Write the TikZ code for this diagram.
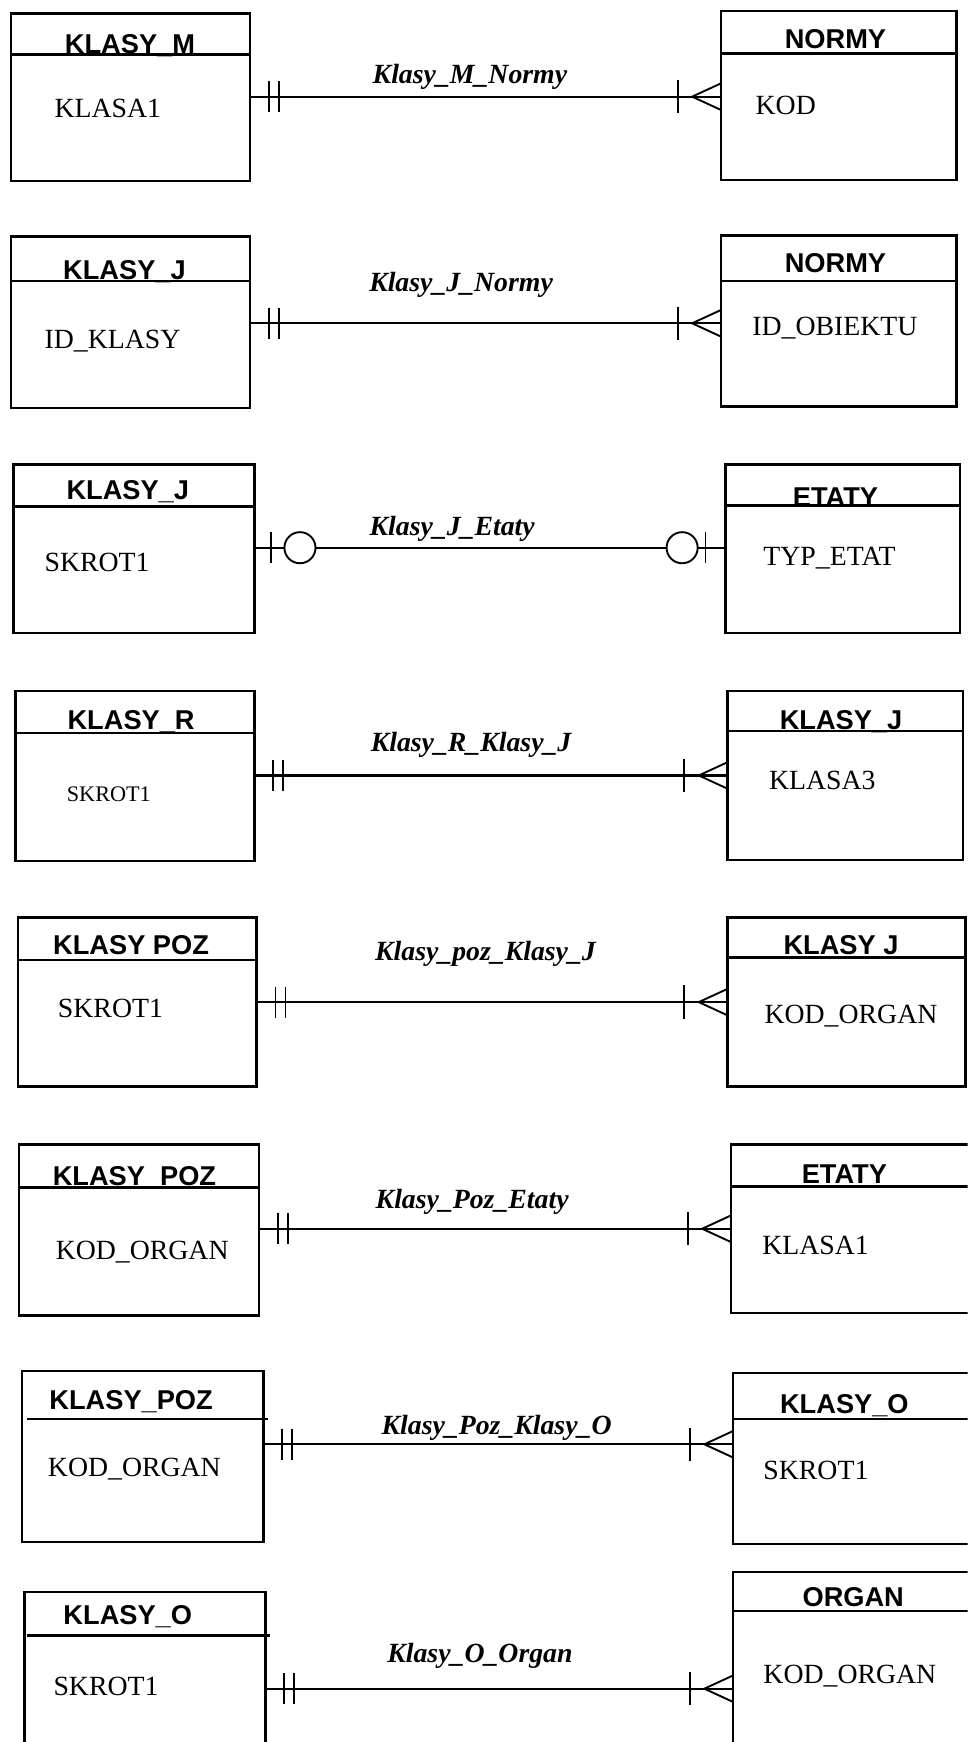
\documentclass[tikz,border=0pt]{standalone}
\usepackage{fontspec}
\setmainfont{Liberation Serif}
\newfontfamily\hdrfont{Liberation Sans}
\tikzset{
  erbox/.style={draw, line width=2.2pt, inner sep=0pt, outer sep=0pt},
  hdrline/.style={line width=2.2pt},
  conn/.style={line width=2pt},
  tick/.style={line width=1.7pt},
  ttl/.style={anchor=base, inner sep=0pt, font=\hdrfont\bfseries\fontsize{24.5}{24.5}\selectfont},
  attr/.style={anchor=base west, inner sep=0pt, font=\fontsize{25}{25}\selectfont},
  rel/.style={anchor=base, inner sep=0pt, font=\bfseries\itshape\fontsize{25}{25}\selectfont},
}
\newcommand\ent[5]{%
  \node[erbox, minimum width={#4-#2}, minimum height={#5-#3}] (#1) at ({(#2+#4)/2},{(#3+#5)/2}) {};}
\newcommand\dbar[1]{%
  \draw[tick] ([shift={(17,-14)}]#1) -- ++(0,28);
  \draw[tick] ([shift={(26,-14)}]#1) -- ++(0,28);}
\newcommand\crow[1]{%
  \draw[tick] ([shift={(-39,-15)}]#1) -- ++(0,30);
  \draw[tick] ([shift={(0,-12)}]#1) -- ([shift={(-26,0)}]#1) -- ([shift={(0,12)}]#1);}
\newcommand\zol[1]{%
  \draw[tick] ([shift={(15,-14)}]#1) -- ++(0,28);
  \draw[tick, fill=white] ([shift={(41,0)}]#1) circle (14);}
\newcommand\zor[1]{%
  \draw[tick] ([shift={(-18,-14)}]#1) -- ++(0,28);
  \draw[tick, fill=white] ([shift={(-39,0)}]#1) circle (14);}
\begin{document}
\begin{tikzpicture}[x=1pt,y=-1pt]
\useasboundingbox (0,0) rectangle (871,1568);
\fill[white] (0,0) rectangle (871,1568);
\clip (0,0) rectangle (871,1568);

% ---------- Row 1
\ent{L1}{10}{12}{225}{163}
\ent{R1}{649}{10}{861}{162}
\draw[hdrline] (L1.west |- 0,49) -- (L1.east |- 0,49);
\draw[hdrline] (R1.west |- 0,48) -- (R1.east |- 0,48);
\node[ttl] (t1l) at (117,48) {KLASY\_M};
\node[ttl] (t1r) at (752,44) {NORMY};
\node[attr] (a1l) at (49,106) {KLASA1};
\node[attr] (a1r) at (680,103) {KOD};
\coordinate (c1a) at (L1.east |- 0,87);
\coordinate (c1b) at (R1.west |- 0,87);
\draw[conn] (c1a) -- (c1b);
\dbar{c1a}\crow{c1b}
\node[rel] (r1) at (423,75) {Klasy\_M\_Normy};

% ---------- Row 2
\ent{L2}{10}{213}{225}{367}
\ent{R2}{649}{212}{861}{366}
\draw[hdrline] (L2.west |- 0,253) -- (L2.east |- 0,253);
\draw[hdrline] (R2.west |- 0,253) -- (R2.east |- 0,253);
\node[ttl] (t2l) at (112,252) {KLASY\_J};
\node[ttl] (t2r) at (752,245) {NORMY};
\node[attr] (a2l) at (40,314) {ID\_KLASY};
\node[attr] (a2r) at (677,302) {ID\_OBIEKTU};
\coordinate (c2a) at (L2.east |- 0,291);
\coordinate (c2b) at (R2.west |- 0,291);
\draw[conn] (c2a) -- (c2b);
\dbar{c2a}\crow{c2b}
\node[rel] (r2) at (415,262) {Klasy\_J\_Normy};

% ---------- Row 3
\ent{L3}{12}{418}{229}{570}
\ent{R3}{653}{418}{864}{570}
\draw[hdrline] (L3.west |- 0,456) -- (L3.east |- 0,456);
\draw[hdrline] (R3.west |- 0,455) -- (R3.east |- 0,455);
\node[ttl] (t3l) at (115,450) {KLASY\_J};
\node[ttl] (t3r) at (752,456) {ETATY};
\node[attr] (a3l) at (40,514) {SKROT1};
\node[attr] (a3r) at (687,509) {TYP\_ETAT};
\coordinate (c3a) at (L3.east |- 0,493);
\coordinate (c3b) at (R3.west |- 0,493);
\draw[conn] (c3a) -- (c3b);
\zol{c3a}\zor{c3b}
\node[rel] (r3) at (407,482) {Klasy\_J\_Etaty};

% ---------- Row 4
\ent{L4}{14}{622}{229}{775}
\ent{R4}{655}{622}{867}{774}
\draw[hdrline] (L4.west |- 0,660) -- (L4.east |- 0,660);
\draw[hdrline] (R4.west |- 0,658) -- (R4.east |- 0,658);
\node[ttl] (t4l) at (118,657) {KLASY\_R};
\node[ttl] (t4r) at (757,657) {KLASY\_J};
\node[attr, font=\fontsize{20}{20}\selectfont] (a4l) at (60,721) {SKROT1};
\node[attr] (a4r) at (692,711) {KLASA3};
\coordinate (c4a) at (L4.east |- 0,698);
\coordinate (c4b) at (R4.west |- 0,698);
\draw[conn] (c4a) -- (c4b);
\dbar{c4a}\crow{c4b}
\node[rel] (r4) at (424,676) {Klasy\_R\_Klasy\_J};

% ---------- Row 5
\ent{L5}{16}{826}{231}{978}
\ent{R5}{655}{826}{869}{978}
\draw[hdrline] (L5.west |- 0,864) -- (L5.east |- 0,864);
\draw[hdrline] (R5.west |- 0,862) -- (R5.east |- 0,862);
\node[ttl] (t5l) at (118,859) {KLASY POZ};
\node[ttl] (t5r) at (757,859) {KLASY J};
\node[attr] (a5l) at (52,916) {SKROT1};
\node[attr] (a5r) at (688,921) {KOD\_ORGAN};
\coordinate (c5a) at (L5.east |- 0,902);
\coordinate (c5b) at (R5.west |- 0,902);
\draw[conn] (c5a) -- (c5b);
\dbar{c5a}\crow{c5b}
\node[rel] (r5) at (437,865) {Klasy\_poz\_Klasy\_J};

% ---------- Row 6
\ent{L6}{17}{1030}{233}{1184}
\ent{R6}{658}{1030}{878}{1182}
\draw[hdrline] (L6.west |- 0,1069) -- (L6.east |- 0,1069);
\draw[hdrline] (R6.west |- 0,1068) -- (R6.east |- 0,1068);
\node[ttl] (t6l) at (121,1067) {KLASY\_POZ};
\node[ttl] (t6r) at (760,1065) {ETATY};
\node[attr] (a6l) at (50,1134) {KOD\_ORGAN};
\node[attr] (a6r) at (686,1129) {KLASA1};
\coordinate (c6a) at (L6.east |- 0,1106);
\coordinate (c6b) at (R6.west |- 0,1106);
\draw[conn] (c6a) -- (c6b);
\dbar{c6a}\crow{c6b}
\node[rel] (r6) at (425,1088) {Klasy\_Poz\_Etaty};

% ---------- Row 7
\ent{L7}{20}{1234}{237}{1388}
\ent{R7}{660}{1236}{880}{1390}
\draw[hdrline] (24,1277) -- (241,1277);
\draw[hdrline] (R7.west |- 0,1277) -- (R7.east |- 0,1277);
\node[ttl] (t7l) at (118,1269) {KLASY\_POZ};
\node[ttl] (t7r) at (760,1272) {KLASY\_O};
\node[attr] (a7l) at (43,1329) {KOD\_ORGAN};
\node[attr] (a7r) at (687,1332) {SKROT1};
\coordinate (c7a) at (L7.east |- 0,1300);
\coordinate (c7b) at (R7.west |- 0,1300);
\draw[conn] (c7a) -- (c7b);
\dbar{c7a}\crow{c7b}
\node[rel] (r7) at (447,1291) {Klasy\_Poz\_Klasy\_O};

% ---------- Row 8
\ent{L8}{22}{1433}{239}{1600}
\ent{R8}{660}{1415}{880}{1600}
\draw[hdrline] (24,1472) -- (243,1472);
\draw[hdrline] (R8.west |- 0,1450) -- (R8.east |- 0,1450);
\node[ttl] (t8l) at (115,1462) {KLASY\_O};
\node[ttl] (t8r) at (768,1446) {ORGAN};
\node[attr] (a8l) at (48,1526) {SKROT1};
\node[attr] (a8r) at (687,1515) {KOD\_ORGAN};
\coordinate (c8a) at (L8.east |- 0,1520);
\coordinate (c8b) at (R8.west |- 0,1520);
\draw[conn] (c8a) -- (c8b);
\dbar{c8a}\crow{c8b}
\node[rel] (r8) at (432,1496) {Klasy\_O\_Organ};
\end{tikzpicture}
\end{document}
